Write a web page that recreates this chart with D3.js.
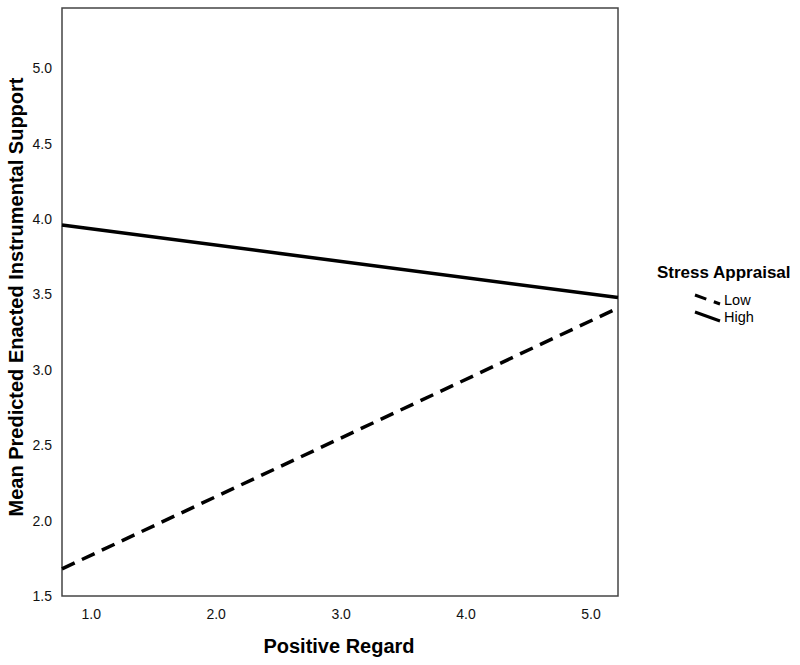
<!DOCTYPE html>
<html><head><meta charset="utf-8">
<script src="https://cdn.jsdelivr.net/npm/d3@7"></script>
<style>body{margin:0;background:#fff}</style>
</head><body>
<svg id="chart" width="800" height="665"></svg>
<script>
const xTicks = [1.0, 2.0, 3.0, 4.0, 5.0];
const yTicks = [1.5, 2.0, 2.5, 3.0, 3.5, 4.0, 4.5, 5.0];
const xDomain = [0.77, 5.22];
const yDomain = [1.5, 5.4];
const seriesNames = ["Low", "High"];
const lowValues = [[0.77, 1.68], [5.22, 3.41]];
const highValues = [[0.77, 3.96], [5.22, 3.48]];

const svg = d3.select("#chart");
const m = {l: 62, r: 618, t: 8, b: 596};
const x = d3.scaleLinear().domain(xDomain).range([m.l, m.r]);
const y = d3.scaleLinear().domain(yDomain).range([m.b, m.t]);
const font = "Liberation Sans, Arial, sans-serif";

// axes (labels only, no tick marks)
const xa = svg.append("g").attr("transform", `translate(0,${m.b})`)
  .call(d3.axisBottom(x).tickValues(xTicks).tickFormat(d3.format(".1f")).tickSize(0).tickPadding(13));
xa.select(".domain").remove();
xa.attr("font-size", null);
xa.selectAll("text").attr("font-family", font).attr("font-size", 14).attr("fill", "#111");
const ya = svg.append("g").attr("transform", `translate(${m.l},0)`)
  .call(d3.axisLeft(y).tickValues(yTicks).tickFormat(d3.format(".1f")).tickSize(0).tickPadding(10));
ya.select(".domain").remove();
ya.attr("font-size", null);
ya.selectAll("text").attr("font-family", font).attr("font-size", 14).attr("fill", "#111");

// frame
svg.append("rect").attr("x", m.l).attr("y", m.t).attr("width", m.r - m.l).attr("height", m.b - m.t)
  .attr("fill", "none").attr("stroke", "#444").attr("stroke-width", 1.5);

const line = d3.line().x(d => x(d[0])).y(d => y(d[1]));
svg.append("path").datum(highValues).attr("d", line).attr("fill", "none")
  .attr("stroke", "#000").attr("stroke-width", 3.5);
svg.append("path").datum(lowValues).attr("d", line).attr("fill", "none")
  .attr("stroke", "#000").attr("stroke-width", 3.5).attr("stroke-dasharray", "14,8");

// axis titles
svg.append("text").attr("x", 339).attr("y", 653).attr("text-anchor", "middle")
  .attr("font-family", font).attr("font-weight", "bold").attr("font-size", 20)
  .text("Positive Regard");
svg.append("text").attr("transform", "translate(23,297) rotate(-90)").attr("text-anchor", "middle")
  .attr("font-family", font).attr("font-weight", "bold").attr("font-size", 20)
  .text("Mean Predicted Enacted Instrumental Support");

// legend
svg.append("text").attr("x", 657).attr("y", 278).attr("font-family", font)
  .attr("font-weight", "bold").attr("font-size", 17).text("Stress Appraisal");
const leg = svg.append("g");
seriesNames.forEach((name, i) => {
  const y0 = 295 + i * 17;
  leg.append("line").attr("x1", 695).attr("y1", y0).attr("x2", 720).attr("y2", y0 + 9)
    .attr("stroke", "#000").attr("stroke-width", 3)
    .attr("stroke-dasharray", name === "Low" ? "12,8" : null);
  leg.append("text").attr("x", 724).attr("y", y0 + 10).attr("font-family", font)
    .attr("font-size", 14.5).text(name);
});
</script>
</body></html>
